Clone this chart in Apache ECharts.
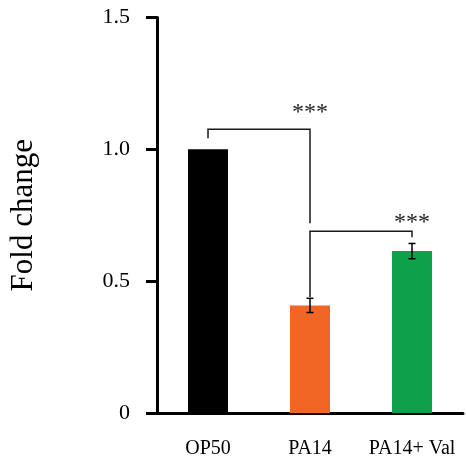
<!DOCTYPE html>
<html>
<head>
<meta charset="utf-8">
<script src="https://cdn.jsdelivr.net/npm/echarts@6/dist/echarts.min.js"></script>
<style>html,body{margin:0;padding:0;background:#fff;}#c{width:466px;height:461px;}</style>
</head>
<body>
<div id="c"></div>
<script>
var categories = ['OP50', 'PA14', 'PA14+ Val'];
var values = [1.0, 0.408, 0.614];
var errors = [0, 0.027, 0.029];
var barColors = ['#000000', '#F26625', '#0FA04B'];
var yTicks = [0, 0.5, 1.0, 1.5];
// brackets: [fromCat, toCat, topY, leftFootY, rightFootY, label, labelY]
var brackets = [
  [0, 1, 1.076, 1.042, 0.720, '***', 1.150],
  [1, 2, 0.689, 0.440, 0.667, '***', 0.732]
];

var chart = echarts.init(document.getElementById('c'));
var font = 'Liberation Serif';
chart.setOption({
  animation: false,
  grid: { left: 154, right: 3, top: 17.5, bottom: 48, containLabel: false },
  xAxis: {
    type: 'category',
    data: categories,
    axisLine: { lineStyle: { color: '#000', width: 3 } },
    axisTick: { show: false },
    axisLabel: { color: '#000', fontFamily: font, fontSize: 20, margin: 26, interval: 0, hideOverlap: false }
  },
  yAxis: {
    type: 'value',
    min: 0, max: 1.5, interval: 0.5,
    name: 'Fold change',
    nameLocation: 'middle',
    nameGap: 118,
    nameTextStyle: { color: '#000', fontFamily: font, fontSize: 31 },
    axisLine: { show: true, lineStyle: { color: '#000', width: 3 } },
    axisTick: { show: true, length: 11, lineStyle: { color: '#000', width: 3 } },
    splitLine: { show: false },
    axisLabel: {
      color: '#000', fontFamily: font, fontSize: 22, margin: 27,
      formatter: function (v) { return v === 0 ? '0' : v.toFixed(1); }
    }
  },
  series: [
    {
      type: 'bar',
      barWidth: 40,
      data: values.map(function (v, i) { return { value: v, itemStyle: { color: barColors[i] } }; }),
      z: 2
    },
    {
      type: 'custom',
      z: 5,
      data: values.map(function (v, i) { return [i, v - errors[i], v + errors[i]]; }),
      renderItem: function (params, api) {
        var i = api.value(0);
        if (!errors[i]) return null;
        var lo = api.coord([i, api.value(1)]);
        var hi = api.coord([i, api.value(2)]);
        var w = 3.5;
        var st = { stroke: '#000', lineWidth: 1.5 };
        return {
          type: 'group',
          children: [
            { type: 'line', shape: { x1: hi[0], y1: hi[1], x2: lo[0], y2: lo[1] }, style: st },
            { type: 'line', shape: { x1: hi[0] - w, y1: hi[1], x2: hi[0] + w, y2: hi[1] }, style: st },
            { type: 'line', shape: { x1: lo[0] - w, y1: lo[1], x2: lo[0] + w, y2: lo[1] }, style: st }
          ]
        };
      }
    },
    {
      type: 'custom',
      z: 6,
      data: brackets.map(function (b, k) { return [k]; }),
      renderItem: function (params, api) {
        var b = brackets[api.value(0)];
        var a = api.coord([b[0], b[2]]);
        var c = api.coord([b[1], b[2]]);
        var lf = api.coord([b[0], b[3]]);
        var rf = api.coord([b[1], b[4]]);
        var t = api.coord([(b[0] + b[1]) / 2, b[6]]);
        return {
          type: 'group',
          children: [
            { type: 'polyline', shape: { points: [[lf[0], lf[1]], [a[0], a[1]], [c[0], c[1]], [rf[0], rf[1]]] }, style: { stroke: '#1a1a1a', lineWidth: 1.5, fill: null } },
            { type: 'text', x: t[0], y: t[1] + 3, style: { text: b[5], font: '24px "Liberation Serif"', fill: '#222', align: 'center', verticalAlign: 'middle' } }
          ]
        };
      }
    }
  ]
});
</script>
</body>
</html>
